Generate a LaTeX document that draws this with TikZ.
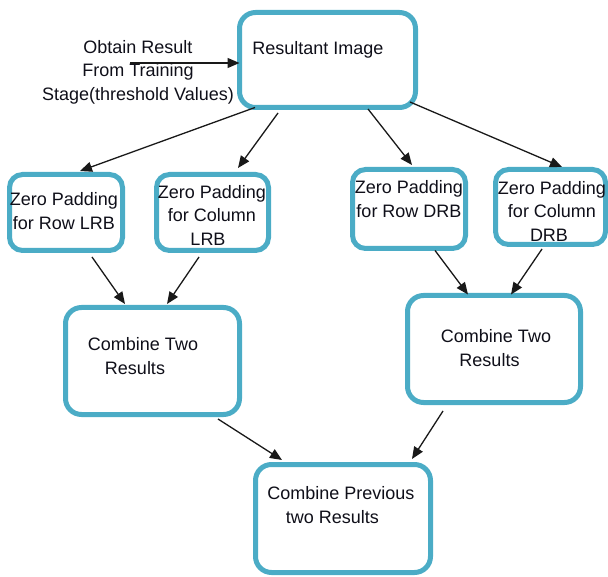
\documentclass[tikz,border=0pt]{standalone}
\usepackage{fontspec}
\setmainfont{Liberation Sans}
\usetikzlibrary{arrows.meta}
\definecolor{boxline}{RGB}{75,172,198}
\definecolor{txt}{RGB}{15,15,25}
\definecolor{arrowc}{RGB}{25,25,25}
\tikzset{
  flowbox/.style={draw=boxline, line width=5pt, rounded corners=#1, fill=white,
    rectangle, anchor=north west, outer sep=0pt, inner sep=0pt},
  flowbox/.default=16pt,
  label text/.style={font=\fontsize{18}{23.5}\selectfont, text=txt, align=center, inner sep=0pt},
  flow/.style={draw=arrowc, line width=1.3pt, -{Triangle[length=12pt,width=10pt]}}
}
% invisible pad that pushes a centred line to the left
\newcommand{\padright}[1]{\rule{#1}{0pt}}
\begin{document}
\begin{tikzpicture}[x=1pt,y=-1pt]
  \useasboundingbox (0,0) rectangle (608,577);

  % boxes (placed by the centre line of the outline)
  \node[flowbox, minimum width=176pt, minimum height=95pt] (top) at (239.5,12.5) {};
  \node[flowbox=13pt, minimum width=113pt, minimum height=76pt] (rowl) at (9.5,174.5) {};
  \node[flowbox=13pt, minimum width=112pt, minimum height=76pt] (coll) at (156.5,174.5) {};
  \node[flowbox, minimum width=174pt, minimum height=107pt] (coml) at (65.5,307.5) {};
  \node[flowbox=13pt, minimum width=113pt, minimum height=79pt] (rowd) at (352.5,169.5) {};
  \node[flowbox=13pt, minimum width=110pt, minimum height=75pt] (cold) at (495.5,169.5) {};
  \node[flowbox, minimum width=173pt, minimum height=107pt] (comr) at (407.5,295.5) {};
  \node[flowbox, minimum width=175pt, minimum height=108pt] (bot) at (255.5,464.5) {};

  % texts
  \node[label text] (ttop) at (318,50) {Resultant Image};
  \node[label text] (tsrc) at (138,72) {Obtain Result\\From Training\\Stage(threshold Values)};
  \node[label text] (trowl) at (64,211) {Zero Padding\\for Row LRB};
  \node[label text] (tcoll) at (212,215) {Zero Padding\\for Column\\LRB\padright{8pt}};
  \node[label text] (tcoml) at (143,356) {Combine Two\\Results\padright{16pt}};
  \node[label text] (trowd) at (409,199) {Zero Padding\\for Row DRB};
  \node[label text] (tcold) at (552,211) {Zero Padding\\for Column\\DRB\padright{6pt}};
  \node[label text] (tcomr) at (496,348) {Combine Two\\Results\padright{13pt}};
  \node[label text] (tbot) at (341,505) {Combine Previous\\two Results\padright{17pt}};

  % input arrow
  \coordinate (insrc) at (130,63);
  \draw[flow] (insrc) -- ([shift={(0,50.5)}]top.north west);

  % connectors
  \draw[flow] ([shift={(15.5,0)}]top.south west) -- ([shift={(70.5,-3.5)}]rowl.north west);
  \draw[flow] ([shift={(38.5,5.5)}]top.south west) -- ([shift={(81.5,-6.5)}]coll.north west);
  \draw[flow] ([shift={(128.5,1.5)}]top.south west) -- ([shift={(59.5,-4.5)}]rowd.north west);
  \draw[flow] ([shift={(-5.5,-5.5)}]top.south east) -- ([shift={(66.5,-2.5)}]cold.north west);

  \draw[flow] ([shift={(82.5,6.5)}]rowl.south west) -- ([shift={(59.5,-3.5)}]coml.north west);
  \draw[flow] ([shift={(42.5,6.5)}]coll.south west) -- ([shift={(101.5,-3.5)}]coml.north west);
  \draw[flow] ([shift={(82.5,2)}]rowd.south west) -- ([shift={(60.5,-1)}]comr.north west);
  \draw[flow] ([shift={(46.5,4.5)}]cold.south west) -- ([shift={(103.5,-1)}]comr.north west);

  \draw[flow] ([shift={(152.5,4.5)}]coml.south west) -- ([shift={(26.5,-4.5)}]bot.north west);
  \draw[flow] ([shift={(35.5,8.5)}]comr.south west) -- ([shift={(156.5,-5.5)}]bot.north west);
\end{tikzpicture}
\end{document}
